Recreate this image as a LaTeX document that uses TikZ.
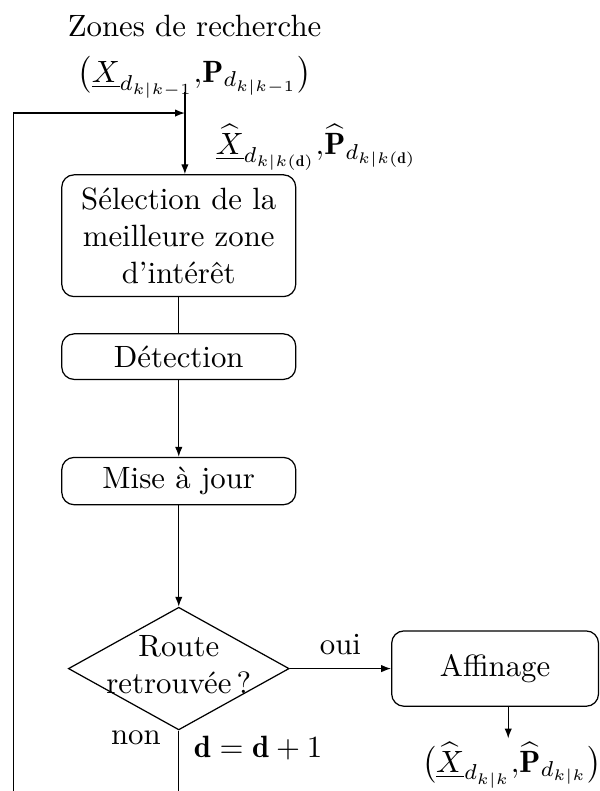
\documentclass[tikz,border=0pt]{standalone}
\usepackage{fontspec}
\usepackage{amsmath,amssymb}
\usepackage{tikz}
\usetikzlibrary{arrows.meta,positioning,shapes.geometric,calc}

\begin{document}
\begin{tikzpicture}[>={Latex[length=3.2pt,width=2.4pt]}, thin,
  box/.style={draw, rounded corners=4pt, align=center, minimum width=2.67cm, inner sep=2pt},
  dec/.style={draw, diamond, minimum width=2.52cm, minimum height=1.40cm, inner sep=0pt},
  lbl/.style={inner sep=1pt}]
\useasboundingbox (0,0) rectangle (6.847,-9.027);
% entree
\node[lbl, anchor=base] (zr) at (2.22,-0.42) {Zones de recherche};
\node[lbl] (zin) at (2.22,-0.88) {$\bigl(\underline{X}_{d_{k|k-1}}{,}\mathbf{P}_{d_{k|k-1}}\bigr)$};
\coordinate (top) at (2.11,-1.05);
\coordinate (join) at (2.11,-1.29);
% boites
\node[box, minimum height=1.39cm] (sel) at (2.04,-2.69) {Sélection de la\\meilleure zone\\d'intérêt};
\node[box, minimum height=0.52cm] (det) at (2.04,-4.07) {Détection};
\node[box, minimum height=0.54cm] (maj) at (2.04,-5.49) {Mise à jour};
\node[dec] (rt) at (2.04,-7.63) {};
\node[lbl, align=center] (rtt) at (2.04,-7.58) {Route\\retrouvée\,?};
\node[box, minimum width=2.36cm, minimum height=0.86cm] (aff) at (5.65,-7.63) {Affinage};
\node[lbl] (out) at (5.84,-8.73) {$\bigl(\widehat{\underline{X}}_{d_{k|k}}{,}\widehat{\mathbf{P}}_{d_{k|k}}\bigr)$};
\node[lbl, anchor=west] (zd) at (2.42,-1.68) {$\widehat{\underline{X}}_{d_{k|k(\mathbf{d})}}{,}\widehat{\mathbf{P}}_{d_{k|k(\mathbf{d})}}$};
% liens
\coordinate (fb) at (0.15,-1.29);
\coordinate (fbend) at (0.15,-9.027);
\coordinate (nend) at (rt.south |- fbend);
\draw[->] (top) -- (top |- sel.north);
\draw[->] (fbend) -- (fb) -- (join);
\draw (sel) -- (det);
\draw[->] (det) -- (maj);
\draw[->] (maj) -- (rt);
\draw[->] (rt.east) -- node[above, yshift=1pt] (oui) {oui} (aff.west);
\draw[->] (aff.south -| out.north) ++(-0.04,0) coordinate (affs) -- (affs |- out.north);
\draw (rt.south) -- (nend);
\node[lbl, anchor=base] (non) at (1.55,-8.50) {non};
\node[lbl, anchor=base west] (inc) at (2.17,-8.64) {$\mathbf{d}=\mathbf{d}+1$};
\end{tikzpicture}
\end{document}
